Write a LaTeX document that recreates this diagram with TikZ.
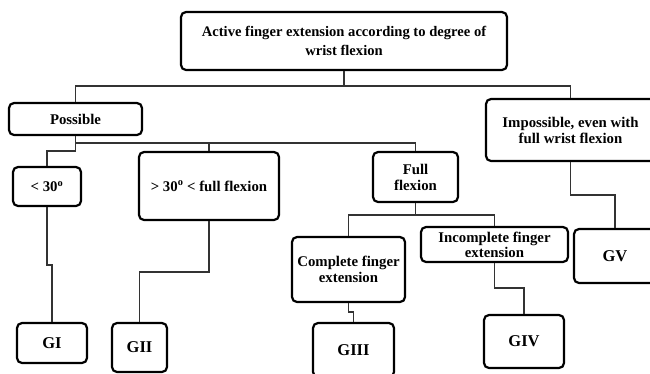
\documentclass[tikz,border=0pt]{standalone}
\usepackage{fontspec}
\setmainfont{Liberation Serif}
\tikzset{
  box/.style={draw=black, line width=2.2pt, rounded corners=5pt, inner sep=0pt, align=center,
    font=\fontsize{14.8}{16}\selectfont\bfseries, fill=white},
  gbox/.style={box, font=\fontsize{16.5}{18}\selectfont\bfseries},
  conn/.style={draw=black!80, line width=1.3pt}
}
\begin{document}
\begin{tikzpicture}[x=1pt,y=-1pt]
\clip (0,0) rectangle (650,373);
\fill[white] (0,0) rectangle (650,373);
% boxes
\node[box, minimum width=326pt, minimum height=58pt, font=\fontsize{14.6}{19}\selectfont\bfseries] (top) at (344,41) {Active finger extension according to degree of\\wrist flexion};
\node[box, minimum width=133pt, minimum height=32pt] (possible) at (75.5,119) {Possible};
\node[box, minimum width=169pt, minimum height=62pt] (impossible) at (570.5,130) {Impossible, even with\\full wrist flexion};
\node[box, minimum width=68pt, minimum height=39pt] (lt) at (47,186.5) {< 30\textsuperscript{o}};
\node[box, minimum width=140pt, minimum height=68pt] (gt) at (209,186) {> 30\textsuperscript{o} < full flexion};
\node[box, minimum width=85pt, minimum height=50pt] (full) at (415.5,177) {Full\\flexion};
\node[box, minimum width=113pt, minimum height=65pt] (complete) at (348.5,269.5) {Complete finger\\extension};
\node[box, minimum width=147pt, minimum height=35pt, font=\fontsize{14.8}{15}\selectfont\bfseries] (incomplete) at (494.5,244.5) {Incomplete finger\\extension};
\node[gbox, minimum width=70pt, minimum height=40pt] (g1) at (52,343) {GI};
\node[gbox, minimum width=55pt, minimum height=49pt] (g2) at (139.5,347.5) {GII};
\node[gbox, minimum width=81pt, minimum height=54pt] (g3) at (353.5,350) {GIII};
\node[gbox, minimum width=80pt, minimum height=53pt] (g4) at (524,341.5) {GIV};
\node[gbox, minimum width=82pt, minimum height=54pt] (g5) at (615,256) {GV};
% junction coordinates
\coordinate (j1) at (344,86);
\coordinate (j2) at (75.5,143);
\coordinate (j3) at (75.5,151);
\coordinate (k1) at (47,265);
\coordinate (k2) at (209,272);
\coordinate (k3) at (415.5,215);
\coordinate (k4) at (348.5,312);
\coordinate (k5) at (494.5,288);
\coordinate (k6) at (570.5,195);
% connectors
\draw[conn] (top.south) -- (j1);
\draw[conn] (possible.north) -- (possible.north |- j1) -- (impossible.north |- j1) -- (impossible.north);
\draw[conn] (possible.south) -- (j2) -- (full.north |- j2) -- (full.north);
\draw[conn] (gt.north) -- (gt.north |- j2);
\draw[conn] (j2) -- (j3) -| (lt.north);
\draw[conn] (lt.south) -- (k1) -| (g1.north);
\draw[conn] (gt.south) -- (k2) -| (g2.north);
\draw[conn] (full.south) -- (k3);
\draw[conn] (complete.north) |- (k3) -| (incomplete.north);
\draw[conn] (complete.south) -- (k4) -| (g3.north);
\draw[conn] (incomplete.south) -- (k5) -| (g4.north);
\draw[conn] (impossible.south) -- (k6) -| (g5.north);
\end{tikzpicture}
\end{document}
